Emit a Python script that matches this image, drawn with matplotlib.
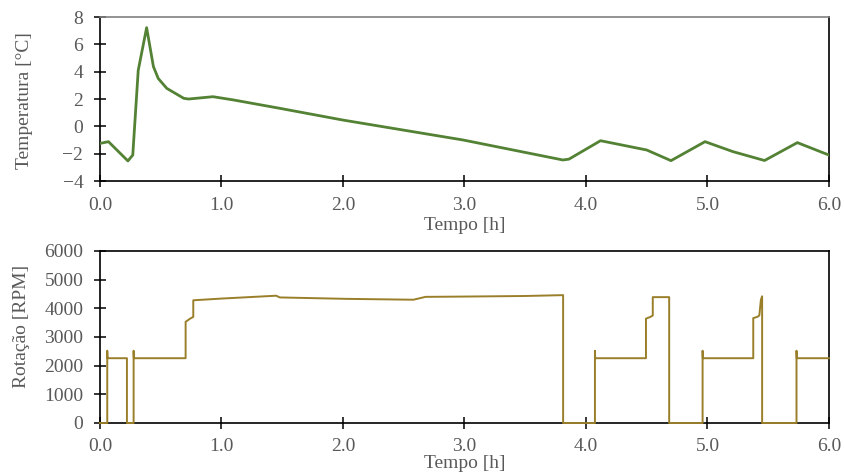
import matplotlib
matplotlib.use("Agg")
import matplotlib.pyplot as plt

# temperatura do ensaio
temp_t = [0.0, 0.07, 0.23, 0.27, 0.315, 0.384, 0.44, 0.48, 0.55, 0.69, 0.73, 0.93,
          1.1, 1.48, 2.0, 2.99, 3.81, 3.86, 4.12, 4.5, 4.70, 4.98, 5.21, 5.47, 5.74, 6.0]
temp_c = [-1.25, -1.12, -2.53, -2.1, 4.1, 7.22, 4.37, 3.5, 2.78, 2.05, 2.0, 2.17,
          1.93, 1.32, 0.46, -1.0, -2.46, -2.4, -1.05, -1.73, -2.51, -1.12, -1.85, -2.5, -1.19, -2.1]

# rotação do compressor
rpm_t = [0.0, 0.06, 0.06, 0.062, 0.222, 0.222, 0.277, 0.277, 0.279, 0.705, 0.705, 0.746,
         0.768, 0.768, 1.0, 1.45, 1.48, 2.03, 2.58, 2.68, 3.0, 3.5, 3.812, 3.812,
         4.074, 4.074, 4.076, 4.494, 4.494, 4.53, 4.55, 4.55, 4.685, 4.685,
         4.96, 4.96, 4.962, 5.377, 5.377, 5.41, 5.427, 5.44, 5.45, 5.45,
         5.733, 5.733, 5.735, 6.0]
rpm_v = [0, 0, 2520, 2260, 2260, 0, 0, 2520, 2260, 2260, 3530, 3650,
         3700, 4280, 4340, 4440, 4380, 4330, 4300, 4400, 4410, 4430, 4460, 0,
         0, 2520, 2260, 2260, 3640, 3700, 3750, 4390, 4390, 0,
         0, 2520, 2260, 2260, 3660, 3700, 3750, 4300, 4420, 0,
         0, 2520, 2260, 2260]

x_ticks = [0, 1, 2, 3, 4, 5, 6]
x_labels = ["0.0", "1.0", "2.0", "3.0", "4.0", "5.0", "6.0"]

plt.rcParams["font.family"] = ["Liberation Serif", "DejaVu Serif"]
gray = "#595959"

fig = plt.figure(figsize=(8.45, 4.74), dpi=100)
ax1 = fig.add_axes([0.1183, 0.6181, 0.8627, 0.346])
ax2 = fig.add_axes([0.1183, 0.1076, 0.8627, 0.3629])

ax1.plot(temp_t, temp_c, color="#548235", lw=2.0, zorder=3)
ax2.plot(rpm_t, rpm_v, color="#9A7F2A", lw=1.4, zorder=3, clip_on=False)

ax1.set_ylim(-4, 8)
ax1.set_yticks(range(-4, 9, 2))
ax2.set_ylim(0, 6000)
ax2.set_yticks(range(0, 6001, 1000))
ax1.set_ylabel("Temperatura [°C]", color=gray, fontsize=14)
ax2.set_ylabel("Rotação [RPM]", color=gray, fontsize=14)
ax1.yaxis.set_label_coords(-0.092, 0.49)
ax2.yaxis.set_label_coords(-0.096, 0.56)

for ax in (ax1, ax2):
    ax.set_xlim(0, 6)
    ax.set_xticks(x_ticks)
    ax.set_xticklabels(x_labels)
    ax.tick_params(direction="inout", length=9, width=1.1, colors="black",
                   labelcolor=gray, labelsize=14)
    ax.tick_params(axis="y", pad=7.5)
    for side in ("left", "bottom", "right"):
        ax.spines[side].set_color("black")
        ax.spines[side].set_linewidth(1.2)
    ax.spines["top"].set_linewidth(1.2)

ax1.tick_params(axis="x", pad=7)
ax2.tick_params(axis="x", pad=6)
ax1.set_xlabel("Tempo [h]", color=gray, fontsize=14, labelpad=2.5)
ax2.set_xlabel("Tempo [h]", color=gray, fontsize=14, labelpad=0)

ax1.spines["top"].set_color("#808080")
ax2.spines["top"].set_color("black")

fig.savefig("out.png", dpi=100)
